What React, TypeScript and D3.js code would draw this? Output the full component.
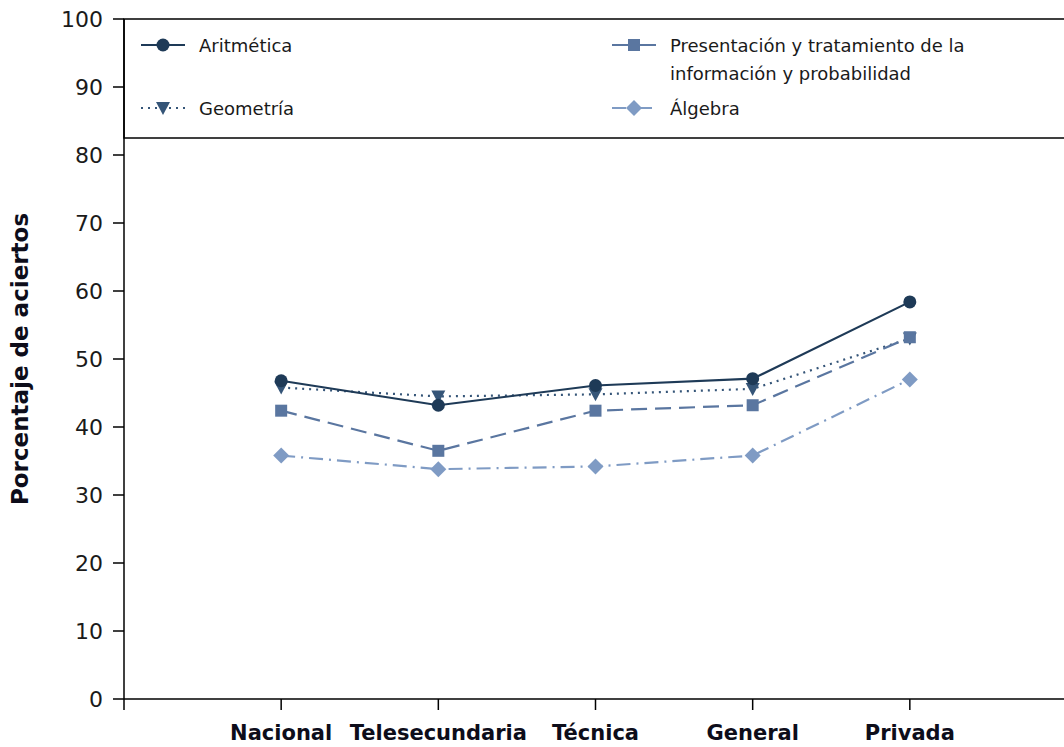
import React from "react";
import * as d3 from "d3";

const categories = ["Nacional", "Telesecundaria", "Técnica", "General", "Privada"];
const aritmetica = [46.8, 43.2, 46.1, 47.1, 58.4];
const geometria = [45.8, 44.5, 44.8, 45.6, 53.0];
const presentacion = [42.4, 36.5, 42.4, 43.2, 53.2];
const algebra = [35.8, 33.8, 34.2, 35.8, 47.0];
const yTicks = [0, 10, 20, 30, 40, 50, 60, 70, 80, 90, 100];

type Series = { name: string[]; values: number[]; color: string; dash: string; legendDash: string; marker: string; lx: number; ly: number };

const series: Series[] = [
  { name: ["Geometría"], values: geometria, color: "#355578", dash: "2,5", legendDash: "2,5", marker: "tri", lx: 163, ly: 108 },
  { name: ["Aritmética"], values: aritmetica, color: "#1e3a57", dash: "", legendDash: "", marker: "circle", lx: 163, ly: 45 },
  { name: ["Presentación y tratamiento de la", "información y probabilidad"], values: presentacion, color: "#5a76a0", dash: "16,8", legendDash: "", marker: "square", lx: 634, ly: 45 },
  { name: ["Álgebra"], values: algebra, color: "#7f9bc4", dash: "14,6,2,6", legendDash: "14,5,2,5", marker: "diamond", lx: 634, ly: 108 },
];

const W = 1064, H = 747;
const left = 124, right = 1067, top = 19, bottom = 699;

function Marker({ type, x, y, color }: { type: string; x: number; y: number; color: string }) {
  if (type === "circle") return <circle cx={x} cy={y} r={6.5} fill={color} />;
  if (type === "square") return <rect x={x - 6} y={y - 6} width={12} height={12} fill={color} />;
  if (type === "tri") return <path d={`M${x - 7},${y - 6} L${x + 7},${y - 6} L${x},${y + 7} Z`} fill={color} />;
  return <path d={`M${x},${y - 8} L${x + 8},${y} L${x},${y + 8} L${x - 8},${y} Z`} fill={color} />;
}

export default function App() {
  const x = d3.scaleLinear().domain([0, 6]).range([left, right]);
  const y = d3.scaleLinear().domain([0, 100]).range([bottom, top]);
  const line = d3.line<number>().x((_, i) => x(i + 1)).y((d) => y(d));
  const font = "'DejaVu Sans', Verdana, sans-serif";
  return (
    <svg width={W} height={H} style={{ position: "absolute", left: 0, top: 0, background: "#fff" }}>
      {/* legend box */}
      <rect x={left} y={top} width={W - left + 5} height={y(82.5) - top} fill="#fff" stroke="#000" strokeWidth={1.5} />
      {series.map((s) => (
        <g key={s.name[0]}>
          <line x1={s.lx - 22} x2={s.lx + 22} y1={s.ly} y2={s.ly} stroke={s.color} strokeWidth={2} strokeDasharray={s.legendDash || undefined} />
          <Marker type={s.marker} x={s.lx} y={s.ly} color={s.color} />
          {s.name.map((t, j) => (
            <text key={j} x={s.lx + 36} y={s.ly + 7 + j * 28} fontFamily={font} fontSize={18} fill="#1a1a1a">{t}</text>
          ))}
        </g>
      ))}
      {/* axes */}
      <line x1={left} x2={left} y1={top} y2={bottom} stroke="#000" strokeWidth={1.5} />
      <line x1={left} x2={W} y1={bottom} y2={bottom} stroke="#000" strokeWidth={1.5} />
      {yTicks.map((t) => (
        <g key={t}>
          <line x1={left - 11} x2={left} y1={y(t)} y2={y(t)} stroke="#000" strokeWidth={1.5} />
          <text x={left - 21} y={y(t) + 8} textAnchor="end" fontFamily={font} fontSize={22} fill="#1a1a1a">{t}</text>
        </g>
      ))}
      <line x1={left} x2={left} y1={bottom} y2={bottom + 11} stroke="#000" strokeWidth={1.5} />
      {categories.map((c, i) => (
        <g key={c}>
          <line x1={x(i + 1)} x2={x(i + 1)} y1={bottom} y2={bottom + 11} stroke="#000" strokeWidth={1.5} />
          <text x={x(i + 1)} y={740} textAnchor="middle" fontFamily={font} fontWeight="bold" fontSize={21} fill="#0d0d1a">{c}</text>
        </g>
      ))}
      <text transform={`translate(28,359) rotate(-90)`} textAnchor="middle" fontFamily={font} fontWeight="bold" fontSize={23} fill="#0d0d1a">Porcentaje de aciertos</text>
      {/* series */}
      {series.map((s) => (
        <g key={s.name[0]}>
          <path d={line(s.values) || ""} fill="none" stroke={s.color} strokeWidth={2.2} strokeDasharray={s.dash || undefined} />
          {s.values.map((v, i) => (
            <Marker key={i} type={s.marker} x={x(i + 1)} y={y(v)} color={s.color} />
          ))}
        </g>
      ))}
    </svg>
  );
}
